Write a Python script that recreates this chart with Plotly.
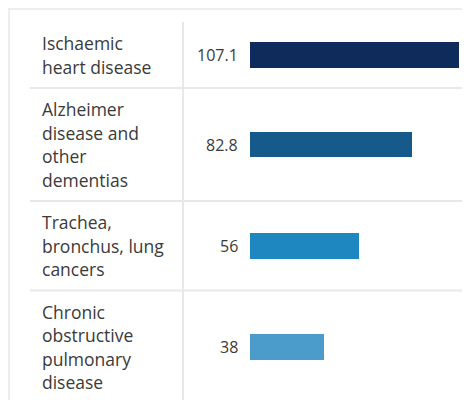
import plotly.graph_objects as go

# chart data
label_lines = [
    ["Ischaemic", "heart disease"],
    ["Alzheimer", "disease and", "other", "dementias"],
    ["Trachea,", "bronchus, lung", "cancers"],
    ["Chronic", "obstructive", "pulmonary", "disease"],
]
values = [107.1, 82.8, 56, 38]
value_labels = ["107.1", "82.8", "56", "38"]
colors = ["#0f2b5b", "#155a8b", "#1f87c0", "#4b9cca"]

W, H = 470, 400
OFF = 8  # page body margin
ML, MR, MT, MB = 250 - OFF, 19, 22 - OFF, OFF
PW, PH = W - ML - MR, H - MT - MB
LINE_H = 23.5
ROW_PAD = 19
FONT = "Open Sans, Noto Sans, sans-serif"
TXT = "#3a3a3a"
GRID = "#e8e8e8"


def px_x(p):
    # page pixel -> paper x
    return (p - OFF - ML) / PW


def px_y(p):
    # page pixel -> paper y
    return (H - MB - (p - OFF)) / PH


# rows grow with number of label lines; y axis unit = 1 pixel
heights = [len(l) * LINE_H + ROW_PAD for l in label_lines]
tops, centers = [], []
acc = 0
for h in heights:
    tops.append(acc)
    centers.append(acc + h / 2)
    acc += h

fig = go.Figure()
fig.add_trace(go.Bar(
    x=values,
    y=centers,
    orientation="h",
    width=25.5,
    marker=dict(color=colors, line=dict(width=0)),
    hoverinfo="skip",
    showlegend=False,
))

annotations = []
for lines, c in zip(label_lines, centers):
    n = len(lines)
    for i, line in enumerate(lines):
        annotations.append(dict(
            x=px_x(40), xref="paper", xanchor="left",
            y=c + (i - (n - 1) / 2) * LINE_H, yref="y", yanchor="middle",
            text=line, showarrow=False,
            font=dict(family=FONT, size=17.5, color=TXT),
        ))
for v, lab, c in zip(values, value_labels, centers):
    annotations.append(dict(
        x=0, xref="x", xanchor="right", xshift=-10,
        y=c, yref="y", yanchor="middle",
        text=lab, showarrow=False,
        font=dict(family=FONT, size=16, color=TXT),
    ))

shapes = []
# separators between rows
for t in tops[1:]:
    shapes.append(dict(type="line", xref="paper", yref="y",
                       x0=px_x(30), x1=px_x(W + OFF), y0=t, y1=t,
                       line=dict(color=GRID, width=2), layer="below"))
# vertical divider between labels and values
shapes.append(dict(type="line", xref="paper", yref="paper",
                   x0=px_x(183), x1=px_x(183), y0=px_y(22), y1=px_y(H + OFF),
                   line=dict(color=GRID, width=2), layer="below"))
# outer frame
shapes.append(dict(type="line", xref="paper", yref="paper",
                   x0=px_x(OFF), x1=px_x(W + OFF), y0=px_y(OFF + 1), y1=px_y(OFF + 1),
                   line=dict(color="#ededed", width=2), layer="below"))
shapes.append(dict(type="line", xref="paper", yref="paper",
                   x0=px_x(OFF + 1), x1=px_x(OFF + 1), y0=px_y(OFF), y1=px_y(H + OFF),
                   line=dict(color="#ededed", width=2), layer="below"))

fig.update_layout(
    width=W, height=H,
    margin=dict(l=ML, r=MR, t=MT, b=MB),
    paper_bgcolor="white", plot_bgcolor="white",
    xaxis=dict(range=[0, max(values)], visible=False, fixedrange=True),
    yaxis=dict(range=[PH, 0], visible=False, fixedrange=True),
    annotations=annotations,
    shapes=shapes,
    bargap=0,
)

fig.write_html("out.html", config={"displayModeBar": False})
